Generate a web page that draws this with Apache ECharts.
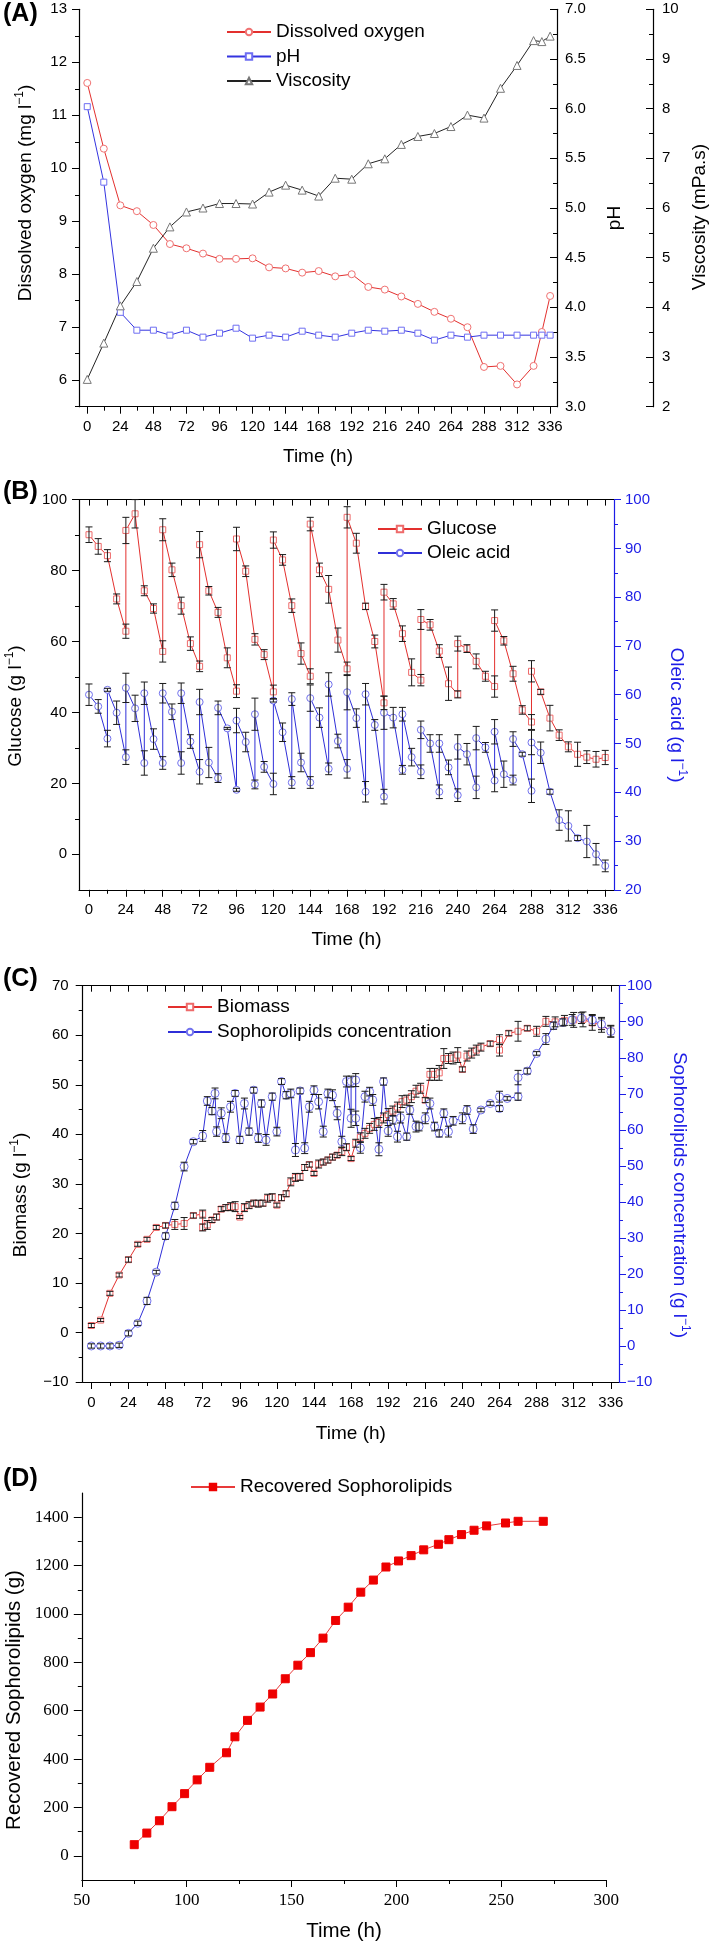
<!DOCTYPE html>
<html><head><meta charset="utf-8">
<script src="https://cdn.jsdelivr.net/npm/echarts@6/dist/echarts.min.js"></script>
<style>html,body{margin:0;padding:0;background:#fff}#c{width:709px;height:1946px}</style>
</head><body><div id="c"></div>
<script>
// ---------- Panel A ----------
const aTime = [0,12,24,36,48,60,72,84,96,108,120,132,144,156,168,180,192,204,216,228,240,252,264,276,288,300,312,324,330,336];
const doVal = [11.61,10.37,9.30,9.19,8.93,8.57,8.49,8.39,8.29,8.29,8.30,8.13,8.11,8.03,8.06,7.96,8.00,7.76,7.71,7.58,7.44,7.29,7.16,7.00,6.25,6.27,5.92,6.27,6.91,7.59];
const phVal = [6.02,5.26,3.95,3.77,3.77,3.72,3.77,3.70,3.74,3.79,3.69,3.72,3.70,3.76,3.72,3.70,3.74,3.77,3.76,3.77,3.74,3.67,3.72,3.70,3.72,3.72,3.72,3.72,3.72,3.72];
const viscVal = [2.55,3.28,4.03,4.52,5.19,5.62,5.92,6.00,6.09,6.09,6.08,6.32,6.46,6.36,6.24,6.60,6.58,6.89,6.99,7.28,7.44,7.50,7.64,7.87,7.81,8.41,8.87,9.37,9.35,9.46];

// ---------- Panel B ----------
const gluTime = [0,6,12,18,24,24,30,36,42,48,48,54,60,66,72,72,78,84,90,96,96,102,108,114,120,120,126,132,138,144,144,150,156,162,168,168,174,180,186,192,192,198,204,210,216,216,222,228,234,240,240,246,252,258,264,264,270,276,282,288,288,294,300,306,312,318,324,330,336];
const gluVal = [90.1,86.8,84.2,72.0,62.9,91.3,96.0,74.3,69.3,57.2,91.5,80.2,70.1,59.4,53.0,87.3,74.3,68.2,55.4,46.0,88.9,79.8,60.6,56.3,45.8,88.6,83.0,70.1,56.6,50.2,93.1,80.2,74.7,60.4,52.3,95.0,87.7,69.9,60.0,42.7,73.9,70.6,62.2,51.3,49.1,66.2,64.7,57.3,48.1,45.1,59.4,58.0,54.4,50.2,47.3,65.9,60.2,50.9,40.7,37.3,51.6,45.8,38.4,33.6,30.3,28.2,27.4,26.8,27.3];
const gluErr = [2.2,2.2,1.7,1.4,2.0,3.7,4.0,1.4,1.3,3.0,3.1,1.9,2.4,1.9,1.5,3.7,1.2,1.4,2.8,1.8,3.3,1.5,1.6,1.4,1.9,2.3,1.5,1.9,3.0,2.1,1.9,1.9,3.9,3.4,1.9,3.0,2.8,0.9,1.8,1.9,2.2,1.5,2.2,3.8,1.6,2.8,1.5,1.8,4.7,1.0,2.1,1.1,2.1,1.4,3.0,3.0,1.2,2.1,1.2,2.1,3.0,0.7,3.6,1.5,1.4,3.4,1.8,2.2,2.0];
const oleTime = [0,6,12,12,18,24,24,30,36,36, 42,48,48,54,60,60,66,72,72,78, 84,84,90,96,96,102,108,108,114,120, 120,126,132,132,138,144,144,150,156,156, 162,168,168,174,180,180,186,192,192,198, 204,204,210,216,216,222,228,228,234,240, 240,246,252,252,258,264,264,270,276,276, 282,288,288,294,300,306,312,318,324,330, 336];
const oleVal = [60.0,57.6,51.0,61.0,56.3,47.2,61.4,57.2,46.0,60.3, 50.9,46.0,60.3,56.5,46.0,60.3,50.4,44.2,58.5,46.1, 42.9,57.3,53.1,40.5,54.7,50.3,41.6,56.0,45.2,41.7, 58.8,52.3,42.0,59.1,46.1,42.0,59.3,55.3,44.8,62.1, 50.5,44.8,60.5,55.2,40.1,60.1,53.8,39.1,56.3,55.3, 44.6,56.0,47.2,44.2,52.8,50.0,40.1,50.0,45.1,39.4, 49.3,47.8,41.0,51.1,49.2,42.4,52.4,43.7,42.5,50.9, 47.8,40.3,50.2,48.1,40.1,34.3,33.1,30.6,29.9,27.3, 24.9];
const oleErr = [2.2,1.4,1.7,0.3,2.4,1.5,3.0,2.7,2.5,2.3, 2.1,1.3,2.0,1.6,2.3,2.1,1.4,2.5,2.6,3.1, 0.9,1.4,0.2,0.3,2.5,2.0,0.9,3.3,1.1,2.2, 0.3,1.9,1.2,1.3,1.9,1.2,2.7,2.0,1.2,2.4, 1.4,1.9,3.6,1.9,2.1,2.2,1.1,1.5,3.4,2.1, 0.9,1.4,1.8,1.4,1.8,1.8,1.4,1.8,1.5,1.3, 2.5,2.2,2.3,2.4,1.0,2.3,2.5,2.7,1.0,1.5, 0.4,2.4,2.5,2.2,0.5,2.1,3.1,0.5,3.3,2.2, 1.2];

// ---------- Panel C ----------
const bioTime = [0,6,12,18,24,30,36,42,48,54, 60,66,72,72,75,78,81,84,87,90, 93,96,99,102,105,108,111,114,117,120, 123,126,129,132,135,138,141,144,147,150, 153,156,159,162,165,168,171,174,177,180, 183,186,189,192,195,198,201,204,207,210, 213,216,219,222,225,228,231,234,237,240, 243,246,249,252,258,264,264,270,276,282, 288,294,300,306,312,318,324,330,336];
const bioVal = [1.4,2.5,7.9,11.6,14.7,17.8,18.8,21.2,21.6,21.8, 22.0,23.6,23.9,21.2,21.7,22.7,23.3,24.9,25.2,25.4, 25.4,23.3,25.2,25.7,26.1,26.0,26.1,27.1,27.3,25.7, 27.2,28.0,30.4,31.3,31.4,33.3,33.9,32.1,34.0,34.4, 34.8,35.4,35.8,36.5,37.4,35.1,38.2,39.4,40.2,41.2, 42.0,42.4,43.3,44.0,44.7,45.5,46.6,46.9,47.6,48.7, 49.3,46.9,52.1,52.1,52.4,55.3,55.3,55.4,56.0,53.1, 55.8,56.4,57.0,57.6,58.3,59.1,57.0,60.4,60.8,61.4, 60.8,62.8,62.7,63.0,63.1,63.2,62.5,62.1,60.8];
const bioErr = [0.4,0.3,0.4,0.4,0.5,0.4,0.4,0.4,0.5,1.0, 1.2,0.5,0.8,0.7,0.9,0.5,0.6,0.5,0.6,0.8, 1.0,0.3,0.8,0.7,0.6,0.7,0.6,0.8,0.7,0.4, 0.6,0.6,0.8,0.8,0.7,0.6,0.5,0.4,0.8,0.6, 0.6,0.6,0.5,0.8,0.7,0.4,0.8,0.9,1.0,1.0, 1.2,1.0,1.0,1.2,1.0,1.0,1.2,1.0,1.2,1.2, 1.0,0.5,1.2,1.2,1.5,2.0,1.0,1.2,1.5,0.5, 1.0,1.0,1.0,0.8,0.5,1.0,1.2,0.5,2.0,0.5, 1.0,1.0,1.0,1.0,1.5,1.5,1.5,1.5,1.2];
const sophTime = [0,6,12,18,24,30,36,42,48,54, 60,66,72,75,78,80,81,84,87,90, 93,96,99,102,105,108,110,113,117,120, 123,126,129,132,135,138,141,144,147,150, 153,156,159,162,165,168,168,171,171,174, 177,180,182,186,189,192,195,198,200,204, 206,210,212,216,219,222,225,228,231,234, 240,243,247,252,258,264,264,269,276,276, 282,288,294,299,305,311,317,324,330,336];
const sophVal = [0.0,0.0,0.0,0.2,3.5,6.3,12.5,20.5,30.5,38.9, 49.8,56.7,58.3,68.0,65.2,70.1,59.5,64.6,57.7,66.4, 70.1,57.2,67.3,59.5,71.0,57.7,67.3,57.2,69.2,59.5, 73.4,69.6,70.1,54.4,70.8,54.9,66.4,71.0,67.8,59.5, 70.1,69.6,64.6,56.7,73.4,63.2,73.4,73.8,63.2,55.0, 69.2,70.6,68.3,54.6,73.4,59.7,62.8,58.1,63.4,58.1, 65.5,60.9,60.9,63.2,67.3,60.9,59.0,64.6,59.5,62.5, 63.2,65.5,60.2,65.5,67.3,65.9,69.2,68.7,69.2,74.5, 76.3,81.2,85.2,88.9,89.8,90.5,91.0,90.5,89.3,87.3];
const sophErr = [0.6,0.6,0.6,0.6,0.7,0.6,1.0,0.5,0.9,1.0, 1.2,0.6,1.5,1.2,1.0,1.5,1.3,1.5,1.2,1.5, 0.8,1.0,1.5,1.0,0.8,1.2,1.0,1.5,1.0,1.2, 0.8,1.0,1.2,1.8,0.8,1.5,1.5,1.2,2.0,1.5, 1.2,1.5,1.8,1.5,1.5,2.5,1.5,1.8,2.0,1.5, 1.5,1.2,1.5,1.8,1.0,1.5,1.2,1.5,1.5,1.0, 1.2,1.5,1.2,1.5,1.5,1.2,1.0,1.2,1.5,1.2, 1.5,1.2,1.2,0.5,0.5,0.8,1.5,0.5,1.0,2.0, 0.8,0.5,1.5,1.0,1.0,1.5,1.5,1.5,1.5,1.5];

// ---------- Panel D ----------
const recTime = [75,81,87,93,99,105,111,119,123,129,135,141,147,153,159,165,171,177,183,189,195,201,207,213,220,225,231,237,243,252,258,270];
const recVal = [46,94,145,203,257,314,366,426,492,560,615,669,732,788,840,900,973,1028,1090,1140,1194,1219,1241,1265,1288,1307,1328,1346,1364,1376,1383,1383];

// ---------- tick label values ----------
const timeLabels = [0,24,48,72,96,120,144,168,192,216,240,264,288,312,336];
const timeMinor = [12,36,60,84,108,132,156,180,204,228,252,276,300,324];
const timeAll = [0,12,24,36,48,60,72,84,96,108,120,132,144,156,168,180,192,204,216,228,240,252,264,276,288,300,312,324,336];
const doLabels = [6,7,8,9,10,11,12,13];
const doMinor = [5.5,6.5,7.5,8.5,9.5,10.5,11.5,12.5];
const gluLabels = [0,20,40,60,80,100];
const gluMinor = [10,30,50,70,90];
const recLabels = [0,200,400,600,800,1000,1200,1400];
const recMinor = [100,300,500,700,900,1100,1300];

const FONT = '"Liberation Sans", Arial, Helvetica, sans-serif';
const SERIF = '"Liberation Serif", "Times New Roman", serif';
const AXB = '#1c1ce6';

function pairs(t, v){ return t.map((x,i)=>[x, v[i]]); }
function errData(t, v, e){ return t.map((x,i)=>[x, v[i]-e[i], v[i]+e[i]]); }
function errRender(params, api){
  const x = api.value(0), lo = api.value(1), hi = api.value(2);
  const a = api.coord([x, lo]), b = api.coord([x, hi]); const w = 3.5;
  const st = {stroke:'#1a1a1a', lineWidth:1};
  return {type:'group', children:[
    {type:'line', shape:{x1:a[0],y1:a[1],x2:b[0],y2:b[1]}, style:st},
    {type:'line', shape:{x1:a[0]-w,y1:a[1],x2:a[0]+w,y2:a[1]}, style:st},
    {type:'line', shape:{x1:b[0]-w,y1:b[1],x2:b[0]+w,y2:b[1]}, style:st}]};
}
const lbl = (extra) => Object.assign({fontSize:15, color:'#000', fontFamily:FONT, margin:12}, extra||{});
const aline = (c) => ({show:true, onZero:false, lineStyle:{color:c||'#000', width:1.2}});
const tk = (extra) => Object.assign({show:true, lineStyle:{color:'#000', width:1}}, extra||{});
const noSplit = {show:false};
const minus = v => v < 0 ? '\u2212' + Math.abs(v) : String(v);
const plain = v => String(v);

function timeAxes(grid, min, max, withTop, nameGap){
  const arr = [
    {type:'value', gridIndex:grid, min, max, position:'bottom', axisLine:aline(), splitLine:noSplit,
     axisTick:tk({customValues:timeLabels, length:7}), axisLabel:lbl({customValues:timeLabels, margin:13, formatter:plain}),
     name:'Time (h)', nameLocation:'middle', nameGap:nameGap, nameTextStyle:{fontSize:19, fontFamily:FONT, color:'#000'}},
    {type:'value', gridIndex:grid, min, max, position:'bottom', axisLine:{show:false, onZero:false}, splitLine:noSplit,
     axisLabel:{show:false}, axisTick:tk({customValues:timeMinor, length:4})}
  ];
  if (withTop) arr.push({type:'value', gridIndex:grid, min, max, position:'top', axisLine:aline(), splitLine:noSplit,
     axisLabel:{show:false}, axisTick:tk({inside:true, customValues:timeAll, length:6})});
  return arr;
}

const xAxes = [].concat(
  timeAxes(0, -6, 341, false, 41),      // 0,1
  timeAxes(1, -6.5, 341.7, true, 40),   // 2,3,4
  timeAxes(2, -5.6, 341.3, true, 42),   // 5,6,7
  [{type:'value', gridIndex:3, min:50, max:300, interval:50, position:'bottom', axisLine:aline(), splitLine:noSplit,
    axisTick:tk({length:7}), minorTick:{show:true, splitNumber:2, length:4, lineStyle:{color:'#000'}},
    axisLabel:lbl({fontFamily:SERIF, fontSize:17, margin:12, formatter:plain}),
    name:'Time (h)', nameLocation:'middle', nameGap:41, nameTextStyle:{fontSize:20.5, fontFamily:FONT, color:'#000'}}] // 8
);

const yAxes = [
  // A
  {type:'value', gridIndex:0, min:5.5, max:13, position:'left', axisLine:aline(), splitLine:noSplit,
   axisTick:tk({customValues:doLabels, length:7}), axisLabel:lbl({customValues:doLabels, formatter:plain})},       //0
  {type:'value', gridIndex:0, min:5.5, max:13, position:'left', axisLine:{show:false,onZero:false}, splitLine:noSplit,
   axisLabel:{show:false}, axisTick:tk({customValues:doMinor, length:4})},                                         //1
  {type:'value', gridIndex:0, min:3, max:7, interval:0.5, position:'right', axisLine:aline(), splitLine:noSplit,
   axisTick:tk({inside:true, length:7}), minorTick:{show:true, splitNumber:2, length:4, lineStyle:{color:'#000'}},
   axisLabel:lbl({margin:8, formatter:v=>v.toFixed(1)})},                                                           //2
  {type:'value', gridIndex:0, min:2, max:10, interval:1, position:'right', offset:96, axisLine:aline(), splitLine:noSplit,
   axisTick:tk({inside:true, length:7}), minorTick:{show:true, splitNumber:2, length:4, lineStyle:{color:'#000'}},
   axisLabel:lbl({margin:9, formatter:plain})},                                                                    //3
  // B
  {type:'value', gridIndex:1, min:-10, max:100, position:'left', axisLine:aline(), splitLine:noSplit,
   axisTick:tk({customValues:gluLabels, length:7}), axisLabel:lbl({customValues:gluLabels, formatter:plain})},     //4
  {type:'value', gridIndex:1, min:-10, max:100, position:'left', axisLine:{show:false,onZero:false}, splitLine:noSplit,
   axisLabel:{show:false}, axisTick:tk({customValues:gluMinor, length:4})},                                        //5
  {type:'value', gridIndex:1, min:20, max:100, interval:10, position:'right', axisLine:aline(AXB), splitLine:noSplit,
   axisTick:{show:true, length:7, lineStyle:{color:AXB}}, minorTick:{show:true, splitNumber:2, length:4, lineStyle:{color:AXB}},
   axisLabel:lbl({color:AXB, margin:11, formatter:plain})},                                                        //6
  // C
  {type:'value', gridIndex:2, min:-10, max:70, interval:10, position:'left', axisLine:aline(), splitLine:noSplit,
   axisTick:tk({length:7}), minorTick:{show:true, splitNumber:2, length:4, lineStyle:{color:'#000'}},
   axisLabel:lbl({formatter:minus, margin:14})},                                                                   //7
  {type:'value', gridIndex:2, min:-10, max:100, interval:10, position:'right', axisLine:aline(AXB), splitLine:noSplit,
   axisTick:{show:true, length:7, lineStyle:{color:AXB}}, minorTick:{show:true, splitNumber:2, length:4, lineStyle:{color:AXB}},
   axisLabel:lbl({color:AXB, margin:8, formatter:minus})},                                                         //8
  // D
  {type:'value', gridIndex:3, min:-100, max:1500, position:'left', axisLine:aline(), splitLine:noSplit,
   axisTick:tk({customValues:recLabels, length:8}),
   axisLabel:lbl({customValues:recLabels, fontFamily:SERIF, fontSize:17, margin:13, formatter:plain})},           //9
  {type:'value', gridIndex:3, min:-100, max:1500, position:'left', axisLine:{show:false,onZero:false}, splitLine:noSplit,
   axisLabel:{show:false}, axisTick:tk({customValues:recMinor, length:4})}                                          //10
];

function lineSeries(name, xi, yi, data, symbol, size, stroke, lineColor, fill){
  return {type:'line', name, xAxisIndex:xi, yAxisIndex:yi, data, symbol, symbolSize:size, z:3,
    itemStyle:{color:fill||'#fff', borderColor:stroke, borderWidth:1}, lineStyle:{color:lineColor, width:1},
    emphasis:{disabled:true}};
}
function errSeries(xi, yi, data){
  return {type:'custom', xAxisIndex:xi, yAxisIndex:yi, data, renderItem:errRender, z:4, silent:true,
          encode:{x:0, y:[1,2]}};
}

const series = [
  lineSeries('Dissolved oxygen', 0, 0, pairs(aTime, doVal), 'circle', 7, '#f07272', '#e3302e'),
  lineSeries('pH', 0, 2, pairs(aTime, phVal), 'rect', 6, '#6e6ef2', '#3434e0'),
  lineSeries('Viscosity', 0, 3, pairs(aTime, viscVal), 'triangle', 8, '#777777', '#222222'),

  lineSeries('Glucose', 2, 4, pairs(gluTime, gluVal), 'rect', 6, '#ee6a6a', '#e3302e'),
  lineSeries('Oleic acid', 2, 6, pairs(oleTime, oleVal), 'circle', 7, '#7272ee', '#2f2fd8'),
  errSeries(2, 4, errData(gluTime, gluVal, gluErr)),
  errSeries(2, 6, errData(oleTime, oleVal, oleErr)),

  lineSeries('Biomass', 5, 7, pairs(bioTime, bioVal), 'rect', 6, '#ee6a6a', '#e3302e'),
  lineSeries('Sophorolipids concentration', 5, 8, pairs(sophTime, sophVal), 'circle', 8, '#7272ee', '#2f2fd8'),
  errSeries(5, 7, errData(bioTime, bioVal, bioErr)),
  errSeries(5, 8, errData(sophTime, sophVal, sophErr)),

  lineSeries('Recovered Sophorolipids', 8, 9, pairs(recTime, recVal), 'rect', 8, '#ee0000', '#e83a3a', '#ee0000')
];

const legStyle = {fontSize:19, fontFamily:FONT, color:'#000', lineHeight:20};
const legBase = {orient:'vertical', itemWidth:44, itemHeight:8, padding:0, textStyle:legStyle, selectedMode:false};
const legends = [
  Object.assign({data:['Dissolved oxygen','pH','Viscosity'], left:226, top:22, itemGap:4.5}, legBase),
  Object.assign({data:['Glucose','Oleic acid'], left:377, top:519, itemGap:4}, legBase),
  Object.assign({data:['Biomass','Sophorolipids concentration'], left:167, top:997, itemGap:5}, legBase),
  Object.assign({data:['Recovered Sophorolipids'], left:190, top:1477, itemGap:4}, legBase)
];

function yTitle(x, y, text, color, up){
  return {type:'text', x, y, rotation: up ? Math.PI/2 : -Math.PI/2, z:10,
    style:{text, fill:color, align:'center', verticalAlign:'middle',
      rich:{n:{fontSize:19, fontFamily:FONT, fill:color, lineHeight:24, verticalAlign:'middle'},
            s:{fontSize:12, fontFamily:FONT, fill:color, lineHeight:13, verticalAlign:'top'}}}};
}
function panelLabel(x, y, t){
  return {type:'text', x, y, z:10, style:{text:t, fill:'#000', font:'bold 25px ' + FONT, verticalAlign:'middle', align:'left'}};
}

const graphic = [
  panelLabel(3, 14, '(A)'), panelLabel(3, 492, '(B)'), panelLabel(3, 979, '(C)'), panelLabel(3, 1479, '(D)'),
  yTitle(26, 193, '{n|Dissolved oxygen (mg l}{s|\u22121}{n|)}', '#000', true),
  yTitle(615, 218, '{n|pH}', '#000', true),
  yTitle(700, 217, '{n|Viscosity (mPa.s)}', '#000', true),
  yTitle(16, 706, '{n|Glucose (g l}{s|\u22121}{n|)}', '#000', true),
  yTitle(676, 715, '{n|Oleic acid (g l}{s|\u22121}{n|)}', AXB, false),
  yTitle(21, 1195, '{n|Biomass (g l}{s|\u22121}{n|)}', '#000', true),
  yTitle(679, 1195, '{n|Sophorolipids concentration (g l}{s|\u22121}{n|)}', AXB, false),
  {type:'text', x:14, y:1700, rotation:Math.PI/2, z:10, style:{text:'Recovered Sophorolipids (g)', fill:'#000',
    align:'center', verticalAlign:'middle', font:'20.5px ' + FONT}}
];

const chart = echarts.init(document.getElementById('c'), null, {renderer:'canvas'});
chart.setOption({
  backgroundColor:'#fff',
  animation:false,
  textStyle:{fontFamily:FONT},
  grid:[
    {left:79, top:9.3, width:478, height:397.4},
    {left:79, top:499.6, width:535, height:390.2},
    {left:82.7, top:985.7, width:536.3, height:396.3},
    {left:81.8, top:1493, width:524.4, height:387}
  ],
  xAxis:xAxes, yAxis:yAxes, series, legend:legends, graphic
});
</script></body></html>
